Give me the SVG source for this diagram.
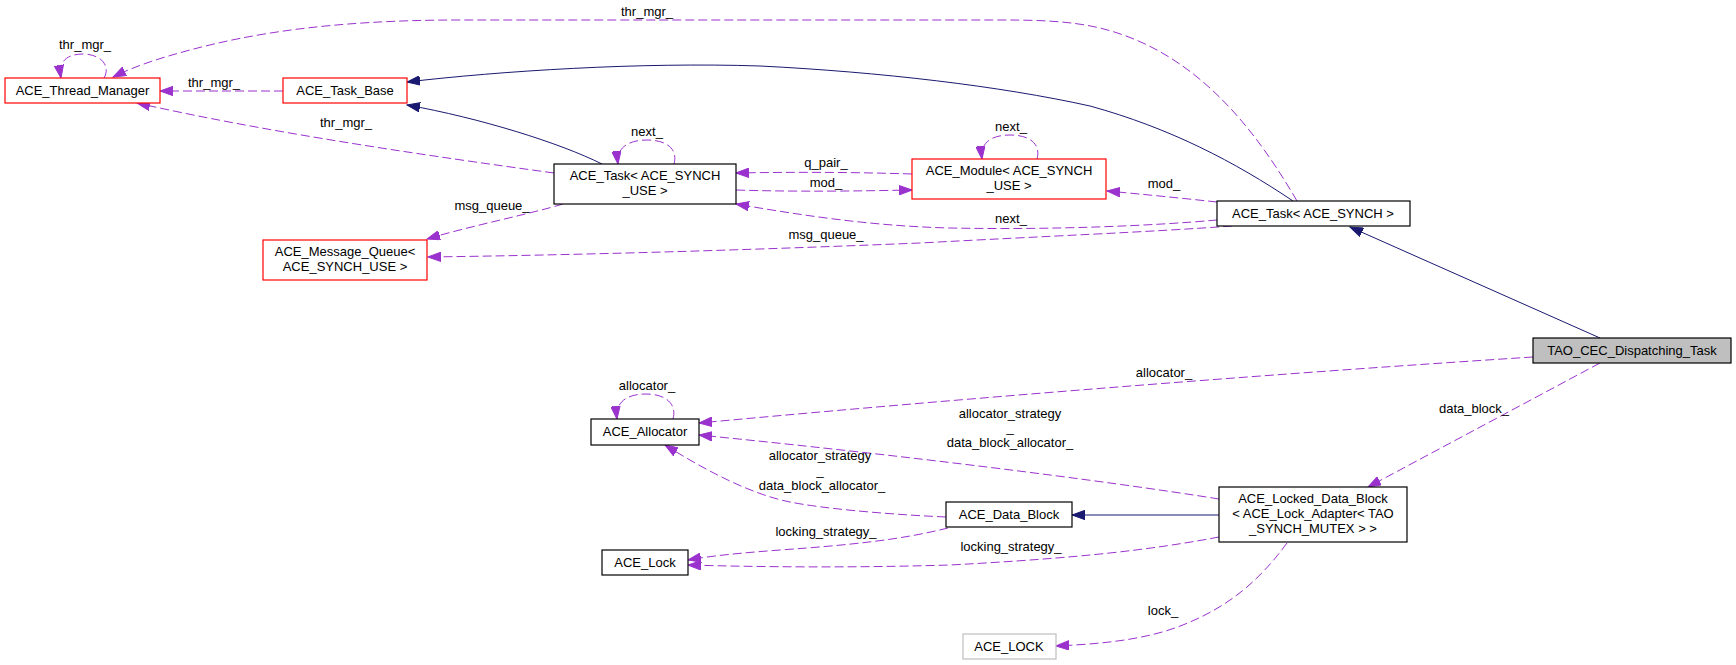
<svg xmlns="http://www.w3.org/2000/svg" width="1736" height="665" viewBox="0 0 1736 665">
<style>
text{font-family:"Liberation Sans",Arial,Helvetica,sans-serif;font-size:13px;fill:#000;text-anchor:middle}
.nb{fill:#fff;stroke:#000;stroke-width:1.2}
.nr{fill:#fff;stroke:#ff0000;stroke-width:1.2}
.ng{fill:#fff;stroke:#bfbfbf;stroke-width:1.2}
.nt{fill:#bfbfbf;stroke:#000;stroke-width:1.2}
.ep{fill:none;stroke:#9a32cd;stroke-width:1;stroke-dasharray:9,4;marker-end:url(#ap)}
.eb{fill:none;stroke:#191970;stroke-width:1;marker-end:url(#ab)}
</style>
<defs>
<marker id="ap" markerWidth="14" markerHeight="10" refX="13" refY="5" orient="auto" markerUnits="userSpaceOnUse"><path d="M0,0.3 L13,5 L0,9.7 z" fill="#9a32cd" stroke="#9a32cd" stroke-width="1" stroke-dasharray="none"/></marker>
<marker id="ab" markerWidth="14" markerHeight="10" refX="13" refY="5" orient="auto" markerUnits="userSpaceOnUse"><path d="M0,0.3 L13,5 L0,9.7 z" fill="#191970" stroke="#191970" stroke-width="1"/></marker>
</defs>
<rect width="1736" height="665" fill="#fff"/>
<g id="edges">
<path class="eb" d="M1293,201 C1235,162 1170,128 1090,106 C1000,86 880,72 760,66 C640,62 500,71 407,82"/>
<path class="eb" d="M602,164 C560,143 480,118 407,105"/>
<path class="eb" d="M1600,338 L1350,227"/>
<path class="eb" d="M1219,515 L1072,515"/>
<path class="ep" d="M104,78 C110,68 104,55 84,54 C68,54 58,60 61,78"/>
<text x="85" y="49">thr_mgr_</text>
<path class="ep" d="M283,91 L160,91"/>
<text x="214" y="87">thr_mgr_</text>
<path class="ep" d="M554,173 C430,156 270,133 137,103"/>
<text x="346" y="127">thr_mgr_</text>
<path class="ep" d="M1297,201 C1250,120 1190,50 1100,28 C1070,21 1040,20 1000,20 L460,20 C330,20 250,34 190,50 C160,58 135,66 113,77"/>
<text x="647" y="16">thr_mgr_</text>
<path class="ep" d="M674,164 C678,150 668,140 647,140 C628,140 616,148 618,164"/>
<text x="647" y="136">next_</text>
<path class="ep" d="M912,174 C850,172 790,172 736,173"/>
<text x="826" y="167">q_pair_</text>
<path class="ep" d="M736,190 C800,192 860,191 912,190"/>
<text x="826" y="187">mod_</text>
<path class="ep" d="M1037,159 C1041,145 1031,135 1010,135 C991,135 980,143 982,159"/>
<text x="1011" y="131">next_</text>
<path class="ep" d="M1217,202 C1180,198 1140,194 1107,191"/>
<text x="1164" y="188">mod_</text>
<path class="ep" d="M1217,220 C1150,226 1050,230 950,228 C870,226 800,215 736,204"/>
<text x="1011" y="223">next_</text>
<path class="ep" d="M1232,226 C1150,232 1050,236 920,243 C750,250 580,255 428,257"/>
<text x="826" y="239">msg_queue_</text>
<path class="ep" d="M563,204 C530,214 470,226 427,239"/>
<text x="492" y="210">msg_queue_</text>
<path class="ep" d="M1533,357 C1300,372 1000,395 699,423"/>
<text x="1164" y="377">allocator_</text>
<path class="ep" d="M673,419 C677,405 667,394 646,394 C627,394 615,402 617,419"/>
<text x="647" y="390">allocator_</text>
<path class="ep" d="M1219,499 C1100,480 900,455 699,435"/>
<text x="1010" y="418">allocator_strategy</text>
<text x="1010" y="432">_</text>
<text x="1010" y="447">data_block_allocator_</text>
<path class="ep" d="M946,517 C880,514 820,508 790,502 C750,494 705,470 665,445"/>
<text x="820" y="460">allocator_strategy</text>
<text x="820" y="475">_</text>
<text x="822" y="490">data_block_allocator_</text>
<path class="ep" d="M948,528 C900,540 850,545 780,550 C740,553 710,556 688,560"/>
<text x="826" y="536">locking_strategy_</text>
<path class="ep" d="M1219,537 C1150,550 1080,558 950,565 C850,568 760,567 688,565"/>
<text x="1011" y="551">locking_strategy_</text>
<path class="ep" d="M1600,363 L1368,487"/>
<text x="1474" y="413">data_block_</text>
<path class="ep" d="M1287,543 C1260,580 1230,605 1190,622 C1150,640 1100,644 1056,646"/>
<text x="1163" y="615">lock_</text>
</g>
<g id="ACE_Thread_Manager"><rect class="nr" x="5" y="78" width="155" height="25"/><text x="82.5" y="95">ACE_Thread_Manager</text></g>
<g id="ACE_Task_Base"><rect class="nr" x="283" y="78" width="124" height="25"/><text x="345" y="95">ACE_Task_Base</text></g>
<g id="ACE_Task_SYNCH_USE"><rect class="nb" x="554" y="164" width="182" height="40"/><text x="645" y="180">ACE_Task&lt; ACE_SYNCH</text><text x="645" y="195">_USE &gt;</text></g>
<g id="ACE_Module"><rect class="nr" x="912" y="159" width="194" height="40"/><text x="1009" y="175">ACE_Module&lt; ACE_SYNCH</text><text x="1009" y="190">_USE &gt;</text></g>
<g id="ACE_Task_SYNCH"><rect class="nb" x="1217" y="201" width="193" height="25"/><text x="1313" y="218">ACE_Task&lt; ACE_SYNCH &gt;</text></g>
<g id="ACE_Message_Queue"><rect class="nr" x="263" y="240" width="164" height="40"/><text x="345" y="256">ACE_Message_Queue&lt;</text><text x="345" y="271">ACE_SYNCH_USE &gt;</text></g>
<g id="TAO_CEC_Dispatching_Task"><rect class="nt" x="1533" y="338" width="198" height="25"/><text x="1632" y="355">TAO_CEC_Dispatching_Task</text></g>
<g id="ACE_Allocator"><rect class="nb" x="591" y="419" width="108" height="26"/><text x="645" y="436">ACE_Allocator</text></g>
<g id="ACE_Data_Block"><rect class="nb" x="946" y="502" width="126" height="25"/><text x="1009" y="519">ACE_Data_Block</text></g>
<g id="ACE_Locked_Data_Block"><rect class="nb" x="1219" y="487" width="188" height="55"/><text x="1313" y="503">ACE_Locked_Data_Block</text><text x="1313" y="518">&lt; ACE_Lock_Adapter&lt; TAO</text><text x="1313" y="533">_SYNCH_MUTEX &gt; &gt;</text></g>
<g id="ACE_Lock"><rect class="nb" x="602" y="550" width="86" height="25"/><text x="645" y="567">ACE_Lock</text></g>
<g id="ACE_LOCK"><rect class="ng" x="963" y="634" width="93" height="25"/><text x="1009" y="651">ACE_LOCK</text></g>
</svg>
